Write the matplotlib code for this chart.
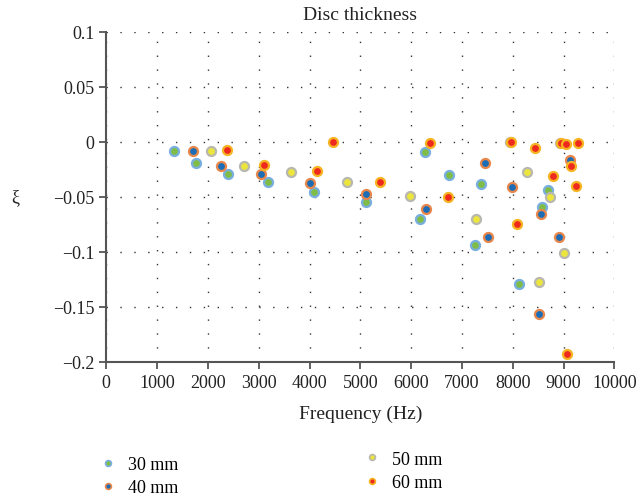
import numpy as np
import matplotlib
matplotlib.use('Agg')
import matplotlib.pyplot as plt
from matplotlib.lines import Line2D

matplotlib.rcParams['font.family'] = ['Liberation Serif', 'DejaVu Serif']
matplotlib.rcParams['axes.unicode_minus'] = True

# frequency (Hz) and xi for each disc thickness
f_30 = [1339, 1766, 2390, 3183, 4094, 5106, 6175, 6280, 6746, 7258, 7382, 8130, 8571, 8695]
xi_30 = [-0.0085, -0.019, -0.029, -0.037, -0.046, -0.055, -0.070, -0.0097, -0.030, -0.094, -0.0388, -0.129, -0.059, -0.044]

f_40 = [1713, 2258, 3039, 4004, 5106, 6293, 7455, 7514, 7986, 8512, 8557, 8911, 9128]
xi_40 = [-0.0085, -0.022, -0.029, -0.038, -0.048, -0.0615, -0.019, -0.0866, -0.041, -0.157, -0.0657, -0.0866, -0.0164]

f_50 = [2055, 2711, 3630, 4738, 5984, 7284, 7950, 8282, 8518, 8734, 8935, 9004]
xi_50 = [-0.0085, -0.022, -0.028, -0.037, -0.049, -0.070, -0.0005, -0.0276, -0.128, -0.050, -0.001, -0.1015]

f_60 = [2370, 3110, 4148, 4469, 5382, 6366, 6720, 7960, 8091, 8433, 8799, 8950, 9043, 9069, 9142, 9246, 9279]
xi_60 = [-0.0078, -0.021, -0.027, 0.0, -0.037, -0.001, -0.050, -0.0006, -0.0745, -0.0057, -0.031, -0.0012, -0.0024, -0.1927, -0.0224, -0.0405, -0.001]

labels = ['30 mm', '40 mm', '50 mm', '60 mm']
faces = ['#80bd48', '#1c6db5', '#ece53c', '#ee2a1e']
edges = ['#78aee0', '#e8874c', '#b8b8b0', '#f7b422']
series = [(f_30, xi_30), (f_40, xi_40), (f_50, xi_50), (f_60, xi_60)]

yticks = [0.1, 0.05, 0, -0.05, -0.1, -0.15, -0.2]
xticks = np.arange(0, 10001, 1000)

fig = plt.figure(figsize=(6.4, 5.02), dpi=100)
ax = fig.add_axes([0.166, 0.2775, 0.794, 0.6575])

for (f, xi), fc, ec in zip(series, faces, edges):
    ax.plot(f, xi, 'o', ls='none', ms=6.5, mfc=fc, mec=ec, mew=1.6, zorder=3)

ax.set_xlim(0, 10000)
ax.set_ylim(-0.2, 0.1)
ax.set_xticks(xticks)
ax.set_yticks(yticks)
ax.set_yticklabels([('%g' % v).replace('-', '\u2212') for v in yticks])
ax.grid(True, color='#333333', ls=(0, (1, 9)), lw=1.0)
for s in ['top', 'right']:
    ax.spines[s].set_visible(False)
for s in ['left', 'bottom']:
    ax.spines[s].set_color('#555555')
    ax.spines[s].set_linewidth(1.5)
ax.tick_params(direction='out', length=5, width=1.3, color='#555555', labelsize=13, labelcolor='#222222')

ax.set_title('Disc thickness', fontsize=14, pad=9, color='#222222')
ax.set_xlabel('Frequency (Hz)', fontsize=14, labelpad=10, color='#222222')
ax.set_ylabel('ξ', fontsize=13, rotation=0, va='center', color='#222222')
ax.yaxis.set_label_coords(-0.179, 0.5)

handles = [Line2D([], [], marker='o', ls='none', ms=4.2, mfc=fc, mec=ec, mew=1.2)
           for fc, ec in zip(faces, edges)]
leg1 = fig.legend(handles[:2], labels[:2], loc='upper left', bbox_to_anchor=(0.158, 0.09),
                  frameon=False, fontsize=13, handlelength=0.8, handletextpad=0.7,
                  labelspacing=0.35, borderaxespad=0, borderpad=0)
leg2 = fig.legend(handles[2:], labels[2:], loc='upper left', bbox_to_anchor=(0.57, 0.1),
                  frameon=False, fontsize=13, handlelength=0.8, handletextpad=0.7,
                  labelspacing=0.35, borderaxespad=0, borderpad=0)

fig.savefig('out.png', dpi=100)
